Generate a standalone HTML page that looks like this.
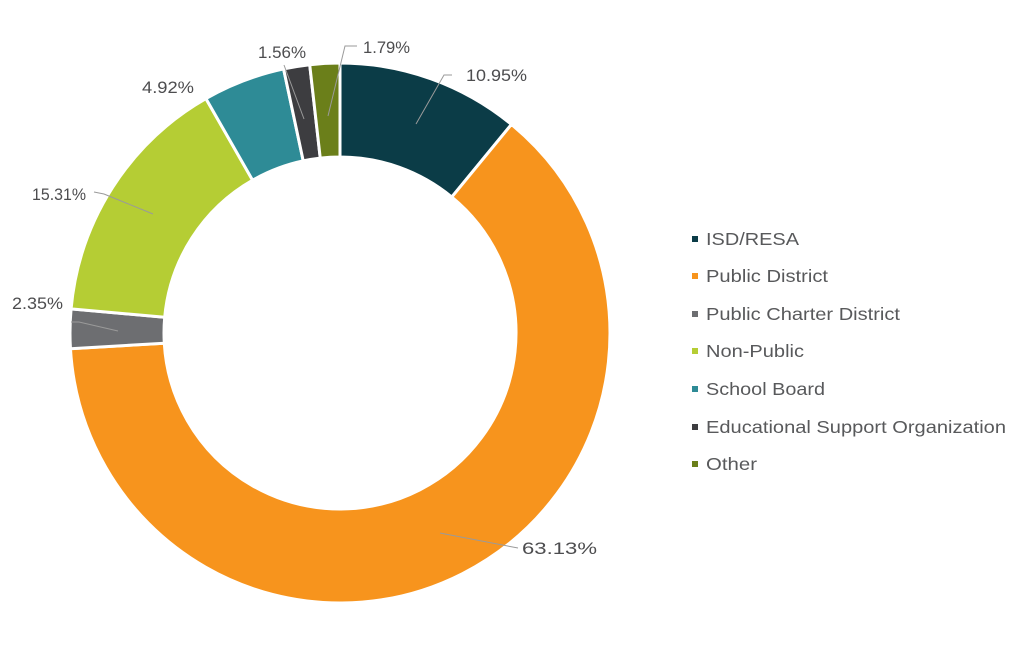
<!DOCTYPE html>
<html><head><meta charset="utf-8"><style>
body{margin:0;background:#fff;}
svg{display:block;font-family:"Liberation Sans",sans-serif;}
</style></head><body>
<svg id="s" width="1024" height="667" viewBox="0 0 1024 667">
<g id="pie"></g>
<g stroke="#9a9a9a" stroke-width="1" fill="none">
<polyline points="452,75 444,75 416,124"/>
<polyline points="357,46 345,46 328,116"/>
<polyline points="284,65 304,119"/>
<polyline points="94,192 104,194 153,214"/>
<polyline points="71,322 79,322 118,331"/>
<polyline points="440,533 518,548"/>
</g>
<g fill="#4d4d4f" font-size="16.5" lengthAdjust="spacingAndGlyphs">
<text x="466" y="81" textLength="61" lengthAdjust="spacingAndGlyphs">10.95%</text>
<text x="363" y="53" textLength="47" lengthAdjust="spacingAndGlyphs">1.79%</text>
<text x="258" y="58" textLength="48" lengthAdjust="spacingAndGlyphs">1.56%</text>
<text x="142" y="93" textLength="52" lengthAdjust="spacingAndGlyphs">4.92%</text>
<text x="32" y="200" textLength="54" lengthAdjust="spacingAndGlyphs">15.31%</text>
<text x="12" y="309" textLength="51" lengthAdjust="spacingAndGlyphs">2.35%</text>
<text x="522" y="554" textLength="75" lengthAdjust="spacingAndGlyphs">63.13%</text>
</g>
<g font-size="17.5" fill="#58595b">
<rect x="692" y="236" width="6" height="6" fill="#0b3c47"/><text x="706" y="245" textLength="93" lengthAdjust="spacingAndGlyphs">ISD/RESA</text>
<rect x="692" y="273" width="6" height="6" fill="#f7941d"/><text x="706" y="282" textLength="122" lengthAdjust="spacingAndGlyphs">Public District</text>
<rect x="692" y="311" width="6" height="6" fill="#6d6e71"/><text x="706" y="320" textLength="194" lengthAdjust="spacingAndGlyphs">Public Charter District</text>
<rect x="692" y="348" width="6" height="6" fill="#b5cd34"/><text x="706" y="357" textLength="98" lengthAdjust="spacingAndGlyphs">Non-Public</text>
<rect x="692" y="386" width="6" height="6" fill="#2e8b96"/><text x="706" y="395" textLength="119" lengthAdjust="spacingAndGlyphs">School Board</text>
<rect x="692" y="424" width="6" height="6" fill="#3d3d40"/><text x="706" y="433" textLength="300" lengthAdjust="spacingAndGlyphs">Educational Support Organization</text>
<rect x="692" y="461" width="6" height="6" fill="#6b7f1a"/><text x="706" y="470" textLength="51" lengthAdjust="spacingAndGlyphs">Other</text>
</g>
</svg>
<script>
var d=[[10.95,"#0b3c47"],[63.13,"#f7941d"],[2.35,"#6d6e71"],[15.31,"#b5cd34"],[4.92,"#2e8b96"],[1.56,"#3d3d40"],[1.79,"#6b7f1a"]];
var cx=340,cy=333,R=270,r=176,tot=100.01,a=0,h="";
function p(ang,rad){return [cx+rad*Math.sin(ang),cy-rad*Math.cos(ang)];}
d.forEach(function(s){var a0=a/tot*2*Math.PI;a+=s[0];var a1=a/tot*2*Math.PI;var L=(a1-a0)>Math.PI?1:0;
var A=p(a0,R),B=p(a1,R),C=p(a1,r),D=p(a0,r);
h+='<path d="M'+A+' A'+R+','+R+' 0 '+L+' 1 '+B+' L'+C+' A'+r+','+r+' 0 '+L+' 0 '+D+'Z" fill="'+s[1]+'" stroke="#fff" stroke-width="3" stroke-linejoin="miter"/>';});
document.getElementById("pie").innerHTML=h;
</script>
</body></html>
